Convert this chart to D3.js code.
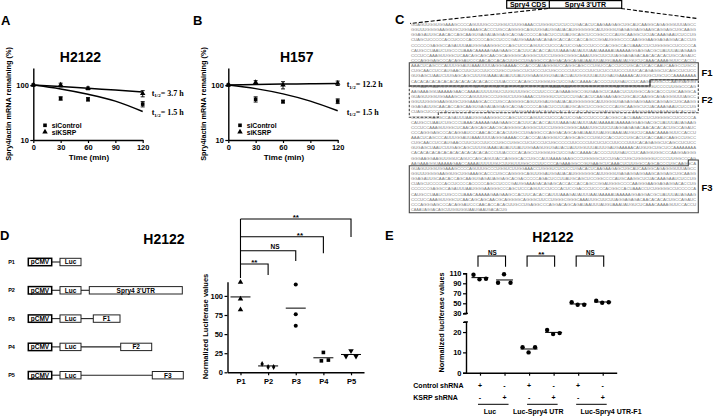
<!DOCTYPE html>
<html>
<head>
<meta charset="utf-8">
<script src="https://cdn.jsdelivr.net/npm/d3@7/dist/d3.min.js"></script>
<style>
html,body{margin:0;padding:0;background:#fff;}
svg{display:block;}
</style>
</head>
<body>
<svg id="fig" width="713" height="416"></svg>
<script>
// ---------------- DATA ----------------
const timePoints = [0, 30, 60, 120];
const fitTimes = [0, 30, 60, 90, 120];
const timeTicks = [0, 30, 60, 90, 120];
const logTicks = [10, 100];
const seriesNames = ["siControl", "siKSRP"];

const A_siControl = [100, 57, 55, 45];
const A_siControlErr = [0, 4, 4, 5];
const A_siKSRP = [100, 100, 87, 70];
const A_siKSRPErr = [0, 8, 5, 9];
const A_fitControl = [100, 85, 68, 51, 33];
const A_fitKSRP = [100, 94, 87, 81, 75];
const A_halfLives = ["3.7 h", "1.5 h"];

const B_siControl = [100, 55, 50, 51];
const B_siControlErr = [0, 6, 3, 5];
const B_siKSRP = [100, 112, 100, 108];
const B_siKSRPErr = [0, 8, 15, 10];
const B_fitControl = [100, 86, 69, 51, 34];
const B_fitKSRP = [100, 102, 104, 105, 107];
const B_halfLives = ["12.2 h", "1.5 h"];

const constructs = ["P1", "P2", "P3", "P4", "P5"];
const lucP1 = [118, 96, 82];
const lucP2 = [11, 7, 7];
const lucP3 = [115, 76, 61];
const lucP4 = [26, 15, 16];
const lucP5 = [28, 21, 21];
const lucTicks = [0, 25, 50, 75, 100];
const dComparisons = ["P2", "P3", "P4", "P5"];
const dSignif = ["**", "NS", "**", "**"];

const eGroups = ["g1", "g2", "g3", "g4", "g5", "g6"];
const eLucCtrl = [107, 98, 99];
const eLucKsrp = [91, 108, 91];
const eUtrCtrl = [12.5, 10, 12.5];
const eUtrKsrp = [21, 19, 19.5];
const eF1Ctrl = [52, 47, 47];
const eF1Ksrp = [55, 51, 52];
const eTicksUpper = [30, 50, 70, 90, 110];
const eTicksLower = [0, 10, 20];
const controlShRNA = ["+", "-", "+", "-", "+", "-"];
const ksrpShRNA = ["-", "+", "-", "+", "-", "+"];
const eConstructLabels = ["Luc", "Luc-Spry4 UTR", "Luc-Spry4 UTR-F1"];
const eSignif = ["NS", "**", "NS"];

const seqLines = [
"GUAGUUGGUGGAAAGCCCCAGUUUGCCCUGGUCUUGGAAACCUGGGUCUCUCCUGACACUCAAGAAGAGCUGCAUCAAGGCAGAGGGUUUAGCC",
"CUAGCUCCCCCACCUCCCCACCCCCAGCCUCCCGAUGGAAAGACAGAGCACCACCACCAGCCGGAUGGGCCCCAAGGGAAGGAGAGGACACCUG",
"CCCUCCAAAGUUGGCUCAACAGCAGCAACGCAGGGGCAGGGCUUCCUGGGCGGGCAAAUUGCUUCUUAGGAGAGACAACACACACUGCCAGAUC",
"CUGCAACCUCCAUGAACCUUCUCCUUCCCUGCCUGGCCUCUCCCUCUGCCCCCUUCCCCUUCUCUCCUUCCCUUUCACAGAGGCUCAGCCUCUCC",
"GGGAAGGAAGUUGGUCAGUCCAGCAGUUACCAGGGCACCUGCCAUUAAAAGAAGCCCUGGGGCUCCUGACCUGCUGGGGGUCCCCUUGGCCCAG",
"GGUUUGGGGAAGGUGCUGGAAAGCACCCUGCCAGGGGCAGUUGGAUGGAUACAUGGGGGGCAUUGGGUGAGAGGAGGAAGCAGGAGCUGCAAGG",
"CCCCCCGAGGCCAGAUUUAAUGGGAAGGGCCCAGCUCCCAGUUCCUCCCACUCCGACCCUCCCCACGGCCACUAAACCUCUGGGGCCUCCCCCA",
"CCCAGGGAGCCCACAGGAUCCCAACACCACACUUGCCUGAGGCCCAGGACAGCAGAUAAUUUAUGUAAAUAUGUCUCAAACAAAAGUUCCACCU",
"GUGAGCUAAUCUUGAGCAGCUUUGUAAAUAUAUUUAUUGGAAGUGUGAUACUAUUGGUUUAUUUGAUGAAAAACAUGUGCUGCUCCAAAAAAAA",
"AAGAAAGGUAAAAAGAACCAAAAUUUUUGUCUUGUUUGGCCCUUCCCCAGAAAGGCCGUGAAGCUCAAACUCUUGGCCAGCACCCUGCAAGGCA",
"GGAGAUUGCAACACCAGCAAGUGAGAUAGGAGCACGACCCCCAGACUCCUUAUGCAGCUCCGGCCCCAUGCAAGGCUCUACAAAGAAUCUCCUG",
"CAUGCCUAAUCUGCCCUAAACAAAAAGAAGAAGCCACUUCACACCAUUUAAAGAUAUUUAAUAAAAAUAAAAAGGAGGACGCUAUUUAUAGAAG",
"AAACUCAGCCCAUUUGGAUUAAAUUUUAGGGAAAACCCACCCAUAGGGUCCAGGCAGCCCUGUCCACCUCCUGCACUCACCAAUCAAGCCUGCC",
"CACACACACACACACACACACACACACCCUUACCCCACAGCCUGGGUGCUCCGACCAAAACACCCCUUUGAUCCUCAAGGUGGCCCAAGGAGGG"
];
const seqLast = "CAAAUAGGACAGCUUGGUGGUAAUGAAUGACACUG";

// ---------------- DRAWING ----------------
const FONT = '"Liberation Sans", Arial, Helvetica, sans-serif';
const SERIF = '"Liberation Serif", "Times New Roman", serif';
const svg = d3.select("#fig");
svg.append("rect").attr("width", 713).attr("height", 416).attr("fill", "#fff");

function txt(g, s, x, y, size, anchor = "start", opts = {}) {
  const t = g.append("text").attr("x", x).attr("y", y)
    .attr("font-family", opts.family || FONT)
    .attr("font-weight", opts.weight || "bold")
    .attr("font-size", size).attr("text-anchor", anchor)
    .attr("fill", opts.fill || "#000").text(s);
  if (opts.rotate) t.attr("transform", `rotate(${opts.rotate},${x},${y})`);
  return t;
}
function styleAxis(g, fs) {
  g.selectAll("path.domain").attr("stroke", "#000").attr("stroke-width", 1.4);
  g.selectAll(".tick line").attr("stroke", "#000").attr("stroke-width", 1.2);
  g.selectAll(".tick text").attr("font-family", FONT).attr("font-weight", "bold")
    .attr("font-size", fs).attr("fill", "#000");
}

// ---- Panels A & B ----
function decayPanel(cfg) {
  const g = svg.append("g");
  const x = d3.scaleLinear().domain([0, 120]).range([cfg.x0, cfg.x0 + 109.4]);
  const y = d3.scaleLog().domain([10, 204]).range([140, 68]);
  const xa = g.append("g").attr("transform", "translate(0,140)")
    .call(d3.axisBottom(x).tickValues(timeTicks).tickSize(3).tickSizeOuter(0).tickPadding(1.5));
  styleAxis(xa, 7.5);
  const ya = g.append("g").attr("transform", `translate(${cfg.x0},0)`)
    .call(d3.axisLeft(y).tickValues(logTicks).tickFormat(d3.format("d")).tickSize(3).tickSizeOuter(0).tickPadding(1.5));
  styleAxis(ya, 7.5);

  txt(g, cfg.letter, cfg.letterX, 25, 13);
  txt(g, cfg.title, cfg.titleX, 62, 14, "middle");
  txt(g, "Time (min)", x(60) + 1, 159.5, 8, "middle");
  txt(g, "Spry4/actin mRNA remaining (%)", cfg.x0 - 22, 104, 7.3, "middle", { rotate: -90 });

  const line = d3.line().x((d, i) => x(fitTimes[i])).y(d => y(d)).curve(d3.curveMonotoneX);
  [cfg.fitKSRP, cfg.fitControl].forEach(f => {
    g.append("path").attr("d", line(f)).attr("fill", "none").attr("stroke", "#000").attr("stroke-width", 1.5);
  });

  function errs(vals, err) {
    vals.forEach((v, i) => {
      if (!err[i]) return;
      const cx = x(timePoints[i]);
      g.append("path").attr("d", `M${cx},${y(v - err[i])}V${y(v + err[i])}M${cx - 2},${y(v - err[i])}H${cx + 2}M${cx - 2},${y(v + err[i])}H${cx + 2}`)
        .attr("stroke", "#000").attr("stroke-width", 0.9).attr("fill", "none");
    });
  }
  errs(cfg.ctrl, cfg.ctrlErr);
  errs(cfg.ksrp, cfg.ksrpErr);
  const sq = d3.symbol().type(d3.symbolSquare).size(13);
  const tri = d3.symbol().type(d3.symbolTriangle).size(13);
  cfg.ctrl.forEach((v, i) => g.append("path").attr("d", sq()).attr("transform", `translate(${x(timePoints[i])},${y(v)})`).attr("fill", "#000"));
  cfg.ksrp.forEach((v, i) => g.append("path").attr("d", tri()).attr("transform", `translate(${x(timePoints[i])},${y(v)})`).attr("fill", "#000"));

  // half-life labels
  [[cfg.fitKSRP, cfg.half[0]], [cfg.fitControl, cfg.half[1]]].forEach(([f, h]) => {
    const t = g.append("text").attr("x", x(120) + 9).attr("y", y(f[f.length - 1]) + 4)
      .attr("font-family", SERIF).attr("font-weight", "bold").attr("font-size", 8).attr("fill", "#000");
    t.append("tspan").text("t");
    t.append("tspan").attr("font-size", 5).attr("dy", 1.6).text("1/2");
    t.append("tspan").attr("dy", -1.6).text("= " + h);
  });

  // legend
  g.append("path").attr("d", sq()).attr("transform", `translate(${cfg.x0 + 11.7},125.3)`).attr("fill", "#000");
  g.append("path").attr("d", tri()).attr("transform", `translate(${cfg.x0 + 11.7},132)`).attr("fill", "#000");
  txt(g, seriesNames[0], cfg.x0 + 18.4, 127.6, 6.8);
  txt(g, seriesNames[1], cfg.x0 + 18.4, 134.6, 6.8);
}
decayPanel({ x0: 33.3, letter: "A", letterX: 1, title: "H2122", titleX: 80.5,
  ctrl: A_siControl, ctrlErr: A_siControlErr, ksrp: A_siKSRP, ksrpErr: A_siKSRPErr,
  fitControl: A_fitControl, fitKSRP: A_fitKSRP, half: A_halfLives });
decayPanel({ x0: 228.3, letter: "B", letterX: 193, title: "H157", titleX: 296.7,
  ctrl: B_siControl, ctrlErr: B_siControlErr, ksrp: B_siKSRP, ksrpErr: B_siKSRPErr,
  fitControl: B_fitControl, fitKSRP: B_fitKSRP, half: B_halfLives });

// ---- Panel C ----
(function () {
  const g = svg.append("g");
  txt(g, "C", 395, 23.5, 13);
  g.append("rect").attr("x", 506.7).attr("y", 0.6).attr("width", 115).attr("height", 7.6)
    .attr("fill", "none").attr("stroke", "#000").attr("stroke-width", 1.2);
  g.append("line").attr("x1", 549.3).attr("x2", 549.3).attr("y1", 0.6).attr("y2", 8.2).attr("stroke", "#000").attr("stroke-width", 1.2);
  txt(g, "Spry4 CDS", 528, 6.9, 7, "middle");
  txt(g, "Spry4 3'UTR", 585.5, 6.9, 7, "middle");
  g.append("line").attr("x1", 548).attr("y1", 8.5).attr("x2", 410).attr("y2", 23.5)
    .attr("stroke", "#000").attr("stroke-width", 1.1).attr("stroke-dasharray", "4,2");
  g.append("line").attr("x1", 621).attr("y1", 8.5).attr("x2", 697).attr("y2", 18.5)
    .attr("stroke", "#000").attr("stroke-width", 1.1).attr("stroke-dasharray", "4,2");

  const ly = d3.scaleLinear().domain([0, 36]).range([24.5, 209.5]);
  for (let i = 0; i < 36; i++) {
    g.append("text").attr("x", 411).attr("y", ly(i) + 1.5)
      .attr("font-family", FONT).attr("font-size", 4.1).attr("fill", "#7a7a7a")
      .attr("textLength", 285).attr("lengthAdjust", "spacingAndGlyphs")
      .text(seqLines[(i * 5) % seqLines.length]);
  }
  g.append("text").attr("x", 411).attr("y", ly(36) + 1.5)
    .attr("font-family", FONT).attr("font-size", 4.1).attr("fill", "#7a7a7a")
    .attr("textLength", 96).attr("lengthAdjust", "spacingAndGlyphs").text(seqLast);

  const L = 409.3, R = 698.3;
  g.append("path").attr("d", `M${L},62.7H${R}V79.7H650V86H${L}Z`)
    .attr("fill", "none").attr("stroke", "#444").attr("stroke-width", 1.1);
  g.append("path").attr("d", `M${L},86H650V79.7H${R}V112.7H438.3V117.3H${L}Z`)
    .attr("fill", "none").attr("stroke", "#444").attr("stroke-width", 1.1).attr("stroke-dasharray", "2.5,1.5");
  g.append("path").attr("d", `M${L},165.7H688.3V160H${R}V212.8H${L}Z`)
    .attr("fill", "none").attr("stroke", "#444").attr("stroke-width", 1.1);
  txt(g, "F1", 701.5, 76, 9.5);
  txt(g, "F2", 701.5, 103, 9.5);
  txt(g, "F3", 701.5, 191, 9.5);
})();

// ---- Panel D ----
(function () {
  const g = svg.append("g");
  txt(g, "D", 0, 240, 13);
  txt(g, "H2122", 164, 243.5, 14, "middle");

  // schematic constructs
  const rowY = d3.scalePoint().domain(constructs).range([262, 375.2]);
  const parts = {
    P1: [["pCMV", 28.3, 51.7], ["Luc", 60, 81]],
    P2: [["pCMV", 28.3, 51.7], ["Luc", 60, 81], ["Spry4 3'UTR", 89.3, 182.3]],
    P3: [["pCMV", 28.3, 51.7], ["Luc", 60, 81], ["F1", 93.3, 120]],
    P4: [["pCMV", 28.3, 51.7], ["Luc", 60, 81], ["F2", 120.7, 151.7]],
    P5: [["pCMV", 28.3, 51.7], ["Luc", 60, 81], ["F3", 152.3, 183.3]]
  };
  constructs.forEach(p => {
    const cy = rowY(p);
    txt(g, p, 11.5, cy + 2, 5.5, "middle");
    const ps = parts[p];
    for (let i = 1; i < ps.length; i++) {
      g.append("line").attr("x1", ps[i - 1][2]).attr("x2", ps[i][1]).attr("y1", cy).attr("y2", cy)
        .attr("stroke", "#222").attr("stroke-width", 1.1);
    }
    ps.forEach(([name, a, b], i) => {
      g.append("rect").attr("x", a).attr("y", cy - 3.7).attr("width", b - a).attr("height", 7.4)
        .attr("fill", "#fff").attr("stroke", i === 0 ? "#000" : "#222").attr("stroke-width", i === 0 ? 1.5 : 1);
      txt(g, name, (a + b) / 2, cy + 2.3, 6.5, "middle");
    });
  });

  // scatter
  const x = d3.scalePoint().domain(constructs).range([227.5, 364]).padding(0.47);
  const y = d3.scaleLinear().domain([0, 118.6]).range([372.3, 281.7]);
  const xa = g.append("g").attr("transform", "translate(0,372.3)")
    .call(d3.axisBottom(x).tickSize(3).tickSizeOuter(0).tickPadding(3));
  styleAxis(xa, 7.5);
  const ya = g.append("g").attr("transform", "translate(227.5,0)")
    .call(d3.axisLeft(y).tickValues(lucTicks).tickSize(3).tickSizeOuter(0).tickPadding(1.5));
  styleAxis(ya, 7.5);
  txt(g, "Normalized Luciferase values", 207.5, 326.5, 7.5, "middle", { rotate: -90 });

  const vals = [lucP1, lucP2, lucP3, lucP4, lucP5];
  const syms = [d3.symbolTriangle, d3.symbolDiamond, d3.symbolCircle, d3.symbolSquare, d3.symbolTriangle];
  const jitter = [[0, 0, 0], [-6, 0, 5.5], [0, 0, 0], [0, -2, 5], [0, -5, 5]];
  constructs.forEach((c, k) => {
    const cx = x(c);
    const m = d3.mean(vals[k]);
    g.append("line").attr("x1", cx - 10).attr("x2", cx + 10).attr("y1", y(m)).attr("y2", y(m))
      .attr("stroke", "#000").attr("stroke-width", 1);
    vals[k].forEach((v, i) => {
      g.append("path").attr("d", d3.symbol().type(syms[k]).size(k === 1 ? 10 : 13)())
        .attr("transform", `translate(${cx + jitter[k][i]},${y(v)})${k === 4 ? " rotate(180)" : ""}`)
        .attr("fill", "#000");
    });
  });

  // significance brackets
  const levels = [264, 250.7, 236.7, 219];
  const drops = [275, 261, 253.3, 237];
  const lblShift = [0, 7, 18, 0];
  g.append("line").attr("x1", x("P1")).attr("x2", x("P1")).attr("y1", 219).attr("y2", 278)
    .attr("stroke", "#000").attr("stroke-width", 1.1);
  dComparisons.forEach((c, i) => {
    g.append("path").attr("d", `M${x("P1")},${levels[i]}H${x(c)}V${drops[i]}`)
      .attr("fill", "none").attr("stroke", "#000").attr("stroke-width", 1.1);
    const mx = (x("P1") + x(c)) / 2 + lblShift[i];
    if (dSignif[i] === "**") txt(g, "**", mx, levels[i] + 1, 8, "middle");
    else txt(g, "NS", mx, levels[i] - 1.3, 6.5, "middle");
  });
})();

// ---- Panel E ----
(function () {
  const g = svg.append("g");
  txt(g, "E", 385, 240, 13);
  txt(g, "H2122", 553, 241.7, 14, "middle");

  const x = d3.scalePoint().domain(eGroups).range([466, 616.7]).padding(0.57);
  const yU = d3.scaleLinear().domain([30, 110]).range([313.3, 273.3]);
  const yL = d3.scaleLinear().domain([0, 25]).range([372.7, 321.9]);
  const yOf = v => (v >= 28 ? yU(v) : yL(v));

  const xa = g.append("g").attr("transform", "translate(0,372.7)")
    .call(d3.axisBottom(x).tickSize(3).tickSizeOuter(0).tickFormat(""));
  styleAxis(xa, 7);
  const yaU = g.append("g").attr("transform", "translate(466,0)")
    .call(d3.axisLeft(yU).tickValues(eTicksUpper).tickSize(3).tickSizeOuter(3).tickPadding(1.5));
  styleAxis(yaU, 7.5);
  const yaL = g.append("g").attr("transform", "translate(466,0)")
    .call(d3.axisLeft(yL).tickValues(eTicksLower).tickSize(3).tickSizeOuter(3).tickPadding(1.5));
  styleAxis(yaL, 7.5);
  g.append("line").attr("x1", 464).attr("x2", 468).attr("y1", yL(25)).attr("y2", yL(25)).attr("stroke", "#000").attr("stroke-width", 1.2);
  g.append("line").attr("x1", 464).attr("x2", 468).attr("y1", yU(30)).attr("y2", yU(30)).attr("stroke", "#000").attr("stroke-width", 1.2);
  txt(g, "Normalized luciferase values", 444, 322.5, 7.3, "middle", { rotate: -90 });

  const vals = [eLucCtrl, eLucKsrp, eUtrCtrl, eUtrKsrp, eF1Ctrl, eF1Ksrp];
  const offs = [-6.5, -0.5, 6];
  eGroups.forEach((gname, k) => {
    const cx = x(gname);
    const m = d3.mean(vals[k]);
    g.append("line").attr("x1", cx - 8.5).attr("x2", cx + 8.5).attr("y1", yOf(m)).attr("y2", yOf(m))
      .attr("stroke", "#000").attr("stroke-width", 1);
    vals[k].forEach((v, i) => {
      g.append("circle").attr("cx", cx + offs[i]).attr("cy", yOf(v)).attr("r", 2.2).attr("fill", "#000");
    });
    txt(g, controlShRNA[k], cx, 388, 7, "middle");
    txt(g, ksrpShRNA[k], cx, 399.5, 7, "middle");
  });
  txt(g, "Control shRNA", 413.3, 388, 7, "start");
  txt(g, "KSRP shRNA", 413.3, 399.5, 7, "start");

  const labelX = [490, 538.3, 611];
  for (let j = 0; j < 3; j++) {
    const a = x(eGroups[2 * j]), b = x(eGroups[2 * j + 1]);
    g.append("line").attr("x1", a - 2).attr("x2", b + 4).attr("y1", 404.3).attr("y2", 404.3)
      .attr("stroke", "#000").attr("stroke-width", 1);
    txt(g, eConstructLabels[j], labelX[j], 414.3, 7, "middle");
    g.append("path").attr("d", `M${a - 2},266.7V256H${b + 1}V266.7`)
      .attr("fill", "none").attr("stroke", "#000").attr("stroke-width", 1.1);
    const mx = (a + b) / 2;
    if (eSignif[j] === "**") txt(g, "**", mx, 257, 8, "middle");
    else txt(g, "NS", mx, 254.5, 6.3, "middle");
  }
})();
</script>
</body>
</html>
